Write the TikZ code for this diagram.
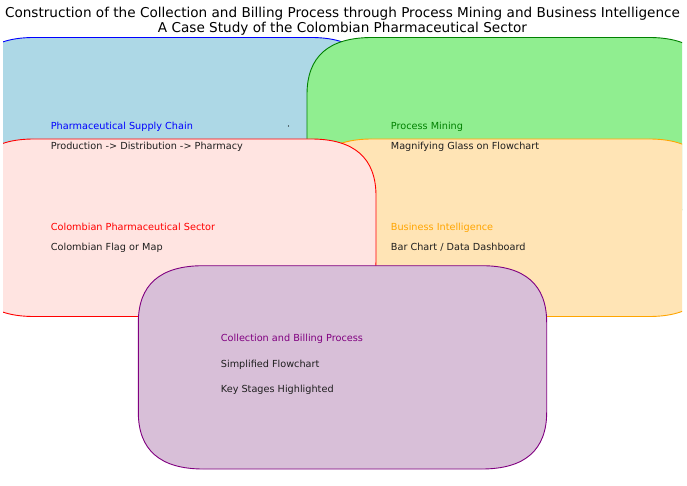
\documentclass[tikz,border=0pt]{standalone}
\usepackage{fontspec}
\setmainfont{DejaVu Sans}
\definecolor{lblue}{HTML}{ADD8E6}
\definecolor{lgreen}{HTML}{90EE90}
\definecolor{mgreen}{HTML}{008000}
\definecolor{mrose}{HTML}{FFE4E1}
\definecolor{mocc}{HTML}{FFE4B5}
\definecolor{morange}{HTML}{FFA500}
\definecolor{mthistle}{HTML}{D8BFD8}
\definecolor{mpurple}{HTML}{800080}
% x0,y0 (top), x1,y1 (bottom), rx, ry ; matplotlib "round" box (quadratic corners)
\newcommand\mplbox[7]{%
  \filldraw[#1] ({#2+#6},#3) -- ({#4-#6},#3)
    .. controls ({#4-#6/3},#3) and (#4,{#3+#7/3}) .. (#4,{#3+#7})
    -- (#4,{#5-#7})
    .. controls (#4,{#5-#7/3}) and ({#4-#6/3},#5) .. ({#4-#6},#5)
    -- ({#2+#6},#5)
    .. controls ({#2+#6/3},#5) and (#2,{#5-#7/3}) .. (#2,{#5-#7})
    -- (#2,{#3+#7})
    .. controls (#2,{#3+#7/3}) and ({#2+#6/3},#3) .. ({#2+#6},#3) -- cycle;}
\tikzset{
  boxline/.style={line width=0.9pt},
  lab/.style={anchor=base west, inner sep=0pt, text=black!88, font=\fontsize{9.7}{11}\selectfont},
  ttl/.style={anchor=base, inner sep=0pt, font=\fontsize{13.6}{15}\selectfont},
}
\begin{document}
\begin{tikzpicture}[x=1pt,y=-1pt]
\useasboundingbox[fill=white] (0,0) rectangle (687,486);
\begin{scope}
  \clip (3,0) rectangle (682,486);
  \mplbox{boxline, fill=lblue, draw=blue}{-31}{37.5}{376}{215}{65}{57}
  \mplbox{boxline, fill=lgreen, draw=mgreen}{307}{37.5}{714}{215}{65}{57}
  \mplbox{boxline, fill=mocc, draw=morange}{307}{139}{714}{316.5}{65}{57}
  \mplbox{boxline, fill=mrose, draw=red}{-31}{139}{376}{316.5}{65}{57}
  \mplbox{boxline, fill=mthistle, draw=mpurple}{138.3}{265.7}{546.7}{469}{65}{57}
\end{scope}
\node[ttl] (t1) at (342.5,17.2) {Construction of the Collection and Billing Process through Process Mining and Business Intelligence};
\node[ttl] (t2) at (342.5,32.4) {A Case Study of the Colombian Pharmaceutical Sector};
\node[lab, text=blue] (sc) at (50.7,129.5) {Pharmaceutical Supply Chain};
\node[lab] (scd) at (50.7,149.5) {Production -> Distribution -> Pharmacy};
\node[circle, fill=black, inner sep=0pt, minimum size=1.2pt] (dot) at (288.5,126) {};
\node[lab, text=mgreen] (pm) at (390.7,129.5) {Process Mining};
\node[lab] (pmd) at (390.7,149.5) {Magnifying Glass on Flowchart};
\node[lab, text=red] (cps) at (50.7,230.3) {Colombian Pharmaceutical Sector};
\node[lab] (cpsd) at (50.7,250.3) {Colombian Flag or Map};
\node[lab, text=morange] (bi) at (390.7,230.3) {Business Intelligence};
\node[lab] (bid) at (390.7,250.3) {Bar Chart / Data Dashboard};
\node[lab, text=mpurple] (cb) at (220.7,341.7) {Collection and Billing Process};
\node[lab] (cbd1) at (220.7,367.5) {Simplified Flowchart};
\node[lab] (cbd2) at (220.7,392.7) {Key Stages Highlighted};
\end{tikzpicture}
\end{document}
